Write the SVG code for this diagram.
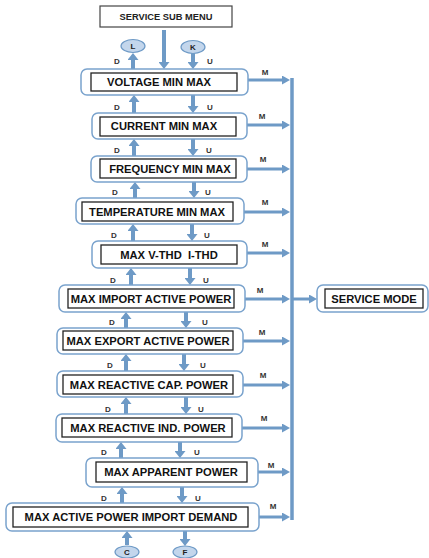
<svg xmlns="http://www.w3.org/2000/svg" width="429" height="558" viewBox="0 0 429 558">
<style>
.outer{fill:#fff;stroke:#7aa3cd;stroke-width:1.5}
.inner{fill:#fff;stroke:#222;stroke-width:1.3}
.plain{fill:#fff;stroke:#444;stroke-width:1.2}
.t{font-family:"Liberation Sans",Arial,sans-serif;font-weight:bold;font-size:11.2px;fill:#111;text-anchor:middle;white-space:pre}
.ts{font-family:"Liberation Sans",Arial,sans-serif;font-weight:bold;font-size:9.3px;fill:#222;text-anchor:middle}
.lb{font-family:"Liberation Sans",Arial,sans-serif;font-weight:bold;font-size:8px;fill:#333;text-anchor:middle}
.ov{fill:#c3d6ec;stroke:#6e9ac6;stroke-width:1.2}
.ol{font-family:"Liberation Sans",Arial,sans-serif;font-weight:bold;font-size:8px;fill:#222;text-anchor:middle}
.v{stroke:#6e9ac6;stroke-width:4;fill:none;marker-end:url(#hv)}
.h{stroke:#6e9ac6;stroke-width:3;fill:none;marker-end:url(#hh)}
</style>
<defs>
<marker id="hv" markerUnits="userSpaceOnUse" viewBox="0 0 7 11" markerWidth="7" markerHeight="11" refX="0" refY="5.5" orient="auto"><path d="M0,0 L7,5.5 L0,11 z" fill="#6e9ac6"/></marker>
<marker id="hh" markerUnits="userSpaceOnUse" viewBox="0 0 8 9" markerWidth="8" markerHeight="9" refX="0" refY="4.5" orient="auto"><path d="M0,0 L8,4.5 L0,9 z" fill="#6e9ac6"/></marker>
</defs>

<g id="connectors">
<line x1="292" y1="78" x2="292" y2="520" stroke="#6e9ac6" stroke-width="3.5"/>
<path class="v" d="M164,30 V62"/>
<path class="v" d="M133,69 V60"/>
<path class="v" d="M193,53 V62"/>
<path class="v" d="M134,113 V102"/><path class="v" d="M193,95 V106"/>
<path class="v" d="M134,156 V146"/><path class="v" d="M193,139 V149"/>
<path class="v" d="M135,198 V189"/><path class="v" d="M194,182 V191"/>
<path class="v" d="M133,241 V231"/><path class="v" d="M192,224 V234"/>
<path class="v" d="M131,285 V275"/><path class="v" d="M190,268 V278"/>
<path class="v" d="M126,328 V319"/><path class="v" d="M186,312 V321"/>
<path class="v" d="M126,371 V361"/><path class="v" d="M184,354 V364"/>
<path class="v" d="M126,414 V404"/><path class="v" d="M186,397 V407"/>
<path class="v" d="M121,458 V449"/><path class="v" d="M180,442 V451"/>
<path class="v" d="M122,503 V494"/><path class="v" d="M182,487 V496"/>
<path class="v" d="M127,545 V538"/><path class="v" d="M185,531 V539"/>
<path class="h" d="M248,80 H282"/>
<path class="h" d="M247,125 H282"/>
<path class="h" d="M247,169 H282"/>
<path class="h" d="M244,212 H282"/>
<path class="h" d="M247,253 H282"/>
<path class="h" d="M245,299 H282"/>
<path class="h" d="M243,341 H282"/>
<path class="h" d="M243,385 H282"/>
<path class="h" d="M242,428 H282"/>
<path class="h" d="M258,472 H282"/>
<path class="h" d="M259,517 H282"/>
<path class="h" d="M292,299 H309"/>
<text class="lb" x="117" y="110">D</text><text class="lb" x="210" y="110">U</text>
<text class="lb" x="117" y="153">D</text><text class="lb" x="209" y="153">U</text>
<text class="lb" x="115" y="195">D</text><text class="lb" x="208" y="195">U</text>
<text class="lb" x="114" y="238">D</text><text class="lb" x="207" y="238">U</text>
<text class="lb" x="113" y="283">D</text><text class="lb" x="206" y="283">U</text>
<text class="lb" x="112" y="325">D</text><text class="lb" x="205" y="325">U</text>
<text class="lb" x="110" y="368">D</text><text class="lb" x="203" y="368">U</text>
<text class="lb" x="108" y="412">D</text><text class="lb" x="201" y="412">U</text>
<text class="lb" x="104" y="455">D</text><text class="lb" x="197" y="455">U</text>
<text class="lb" x="104" y="501">D</text><text class="lb" x="198" y="501">U</text>
<text class="lb" x="117" y="64">D</text><text class="lb" x="210" y="64">U</text>
<text class="lb" x="265" y="75">M</text>
<text class="lb" x="262" y="119">M</text>
<text class="lb" x="263" y="162">M</text>
<text class="lb" x="265" y="205">M</text>
<text class="lb" x="265" y="247">M</text>
<text class="lb" x="260" y="293">M</text>
<text class="lb" x="262" y="335">M</text>
<text class="lb" x="263" y="378">M</text>
<text class="lb" x="264" y="421">M</text>
<text class="lb" x="271" y="468">M</text>
<text class="lb" x="273" y="509">M</text>
</g>

<g id="service-sub-menu">
<rect class="plain" x="100" y="6" width="132" height="21"/>
<text class="ts" x="166" y="20">SERVICE SUB MENU</text>
</g>

<g id="L"><ellipse class="ov" cx="133" cy="46" rx="12" ry="6.5"/><text class="ol" x="133" y="49">L</text></g>
<g id="K"><ellipse class="ov" cx="193" cy="47" rx="12" ry="6.5"/><text class="ol" x="193" y="50">K</text></g>
<g id="C"><ellipse class="ov" cx="127" cy="552" rx="12" ry="6"/><text class="ol" x="127" y="555">C</text></g>
<g id="F"><ellipse class="ov" cx="185" cy="552" rx="12" ry="6"/><text class="ol" x="185" y="555">F</text></g>

<g id="voltage">
<rect class="outer" x="81" y="69" width="167" height="26" rx="6"/>
<rect class="inner" x="91" y="73" width="146" height="18"/>
<text class="t" x="159" y="86">VOLTAGE MIN MAX</text>
</g>
<g id="current">
<rect class="outer" x="92" y="113" width="155" height="26" rx="6"/>
<rect class="inner" x="100" y="117" width="136" height="19"/>
<text class="t" x="164" y="130">CURRENT MIN MAX</text>
</g>
<g id="frequency">
<rect class="outer" x="91" y="156" width="156" height="26" rx="6"/>
<rect class="inner" x="100" y="159" width="136" height="19"/>
<text class="t" x="170" y="173">FREQUENCY MIN MAX</text>
</g>
<g id="temperature">
<rect class="outer" x="76" y="198" width="168" height="26" rx="6"/>
<rect class="inner" x="82" y="202" width="151" height="19"/>
<text class="t" x="157" y="216">TEMPERATURE MIN MAX</text>
</g>
<g id="thd">
<rect class="outer" x="92" y="241" width="155" height="27" rx="6"/>
<rect class="inner" x="101" y="245" width="136" height="19"/>
<text class="t" x="169" y="259">MAX V-THD  I-THD</text>
</g>
<g id="import-active">
<rect class="outer" x="59" y="285" width="186" height="27" rx="6"/>
<rect class="inner" x="68" y="289" width="166" height="19"/>
<text class="t" x="151" y="303">MAX IMPORT ACTIVE POWER</text>
</g>
<g id="export-active">
<rect class="outer" x="57" y="328" width="186" height="26" rx="6"/>
<rect class="inner" x="63" y="331" width="170" height="19"/>
<text class="t" x="148" y="345">MAX EXPORT ACTIVE POWER</text>
</g>
<g id="reactive-cap">
<rect class="outer" x="57" y="371" width="186" height="26" rx="6"/>
<rect class="inner" x="63" y="375" width="170" height="19"/>
<text class="t" x="149" y="389">MAX REACTIVE CAP. POWER</text>
</g>
<g id="reactive-ind">
<rect class="outer" x="56" y="414" width="186" height="28" rx="6"/>
<rect class="inner" x="62" y="418" width="170" height="19"/>
<text class="t" x="148" y="432">MAX REACTIVE IND. POWER</text>
</g>
<g id="apparent">
<rect class="outer" x="86" y="458" width="172" height="29" rx="6"/>
<rect class="inner" x="96" y="462" width="151" height="20"/>
<text class="t" x="171" y="476">MAX APPARENT POWER</text>
</g>
<g id="import-demand">
<rect class="outer" x="6" y="503" width="253" height="28" rx="6"/>
<rect class="inner" x="13" y="507" width="235" height="20"/>
<text class="t" x="131" y="521">MAX ACTIVE POWER IMPORT DEMAND</text>
</g>
<g id="service-mode">
<rect class="outer" x="317" y="285" width="111" height="27" rx="6"/>
<rect class="inner" x="325" y="289" width="98" height="19"/>
<text class="t" x="374" y="303">SERVICE MODE</text>
</g>
</svg>
